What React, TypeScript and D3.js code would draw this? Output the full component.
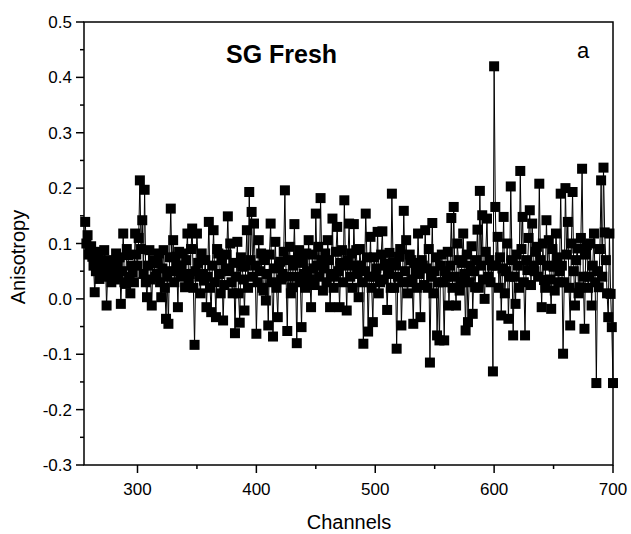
import React from 'react'
import { scaleLinear, line } from 'd3'

// one reading per channel, starting at channel 256
const channelStart = 256

const anisotropy = [
  0.139, 0.1, 0.115, 0.08, 0.088, 0.095, 0.076, 0.06, 0.012, 0.05, 0.07, 0.085, 0.036, 0.07, 0.055, 0.04, 0.088, 0.065, -0.012, 0.05,
  0.07, 0.045, 0.03, 0.065, 0.055, 0.035, 0.082, 0.06, 0.04, 0.075, -0.009, 0.05, 0.118, 0.03, 0.027, 0.09, 0.079, 0.04, 0.01, 0.06,
  0.048, 0.03, 0.118, 0.08, 0.06, 0.11, 0.214, 0.09, 0.142, 0.045, 0.197, 0.03, 0.003, 0.06, 0.088, 0.035, -0.012, 0.07, 0.064, 0.04,
  0.045, 0.065, 0.082, 0.03, 0.003, 0.055, 0.088, 0.02, -0.036, 0.04, -0.045, 0.075, 0.163, 0.05, 0.106, 0.03, 0.076, 0.06, -0.015, 0.085,
  0.045, 0.06, 0.082, 0.04, 0.021, 0.07, 0.118, 0.035, 0.045, 0.09, 0.127, 0.02, -0.083, 0.05, 0.118, 0.065, 0.04, 0.01, 0.082, 0.045,
  0.033, 0.07, -0.015, 0.04, 0.139, 0.02, -0.024, 0.06, 0.124, 0.03, -0.033, 0.09, 0.082, 0.045, 0.01, 0.07, -0.039, 0.025, 0.055, 0.08,
  0.149, 0.05, 0.1, 0.03, 0.01, 0.065, -0.062, 0.04, 0.103, 0.01, -0.043, 0.075, 0.058, 0.035, -0.021, 0.06, 0.124, 0.02, 0.193, 0.07,
  0.157, 0.04, 0.136, 0.06, -0.063, 0.03, 0.106, 0.05, 0.082, 0.02, 0.015, 0.07, -0.003, 0.045, -0.048, 0.08, 0.136, 0.03, -0.068, 0.055,
  0.103, 0.02, -0.033, 0.06, 0.067, 0.035, 0.045, 0.085, 0.196, 0.04, -0.058, 0.07, 0.094, 0.01, 0.021, 0.06, 0.135, 0.04, -0.08, 0.075,
  0.088, 0.03, -0.051, 0.065, 0.045, 0.02, 0.082, 0.05, 0.106, 0.035, -0.015, 0.08, 0.055, 0.025, 0.154, 0.06, 0.094, 0.04, 0.182, 0.07,
  0.015, 0.055, 0.082, 0.03, 0.106, 0.07, -0.015, 0.045, 0.145, 0.02, 0.04, 0.085, 0.13, 0.05, -0.015, 0.065, 0.088, 0.03, 0.178, 0.06,
  -0.021, 0.07, 0.136, 0.04, 0.082, 0.02, 0.135, 0.06, 0.088, 0.045, 0.003, 0.09, 0.06, 0.03, -0.081, 0.05, 0.154, 0.075, -0.059, 0.04,
  0.112, 0.02, -0.042, 0.075, 0.04, 0.055, 0.121, 0.01, 0.03, 0.08, 0.122, 0.035, 0.064, 0.06, -0.02, 0.045, 0.083, 0.02, 0.19, 0.065,
  0.02, 0.06, -0.09, 0.04, 0.076, 0.09, -0.048, 0.03, 0.159, 0.05, 0.106, 0.01, 0.03, 0.08, 0.07, 0.035, -0.045, 0.065, 0.05, 0.02,
  0.118, 0.045, -0.033, 0.07, 0.06, 0.025, 0.124, 0.055, 0.02, 0.09, -0.115, 0.04, 0.137, 0.01, 0.05, 0.075, -0.066, 0.03, -0.075, 0.06,
  0.08, 0.03, -0.075, 0.05, 0.04, 0.085, -0.012, 0.06, 0.146, 0.02, 0.166, 0.04, -0.012, 0.1, 0.07, 0.015, 0.03, 0.065, 0.118, 0.045,
  -0.057, 0.08, -0.042, 0.03, 0.06, 0.095, -0.027, 0.05, 0.021, 0.07, 0.125, 0.02, 0.195, 0.06, 0.151, 0.035, 0.0, 0.085, 0.145, 0.04,
  0.07, 0.03, 0.06, -0.131, 0.42, 0.166, 0.06, 0.112, 0.02, 0.075, -0.03, 0.055, 0.148, 0.01, 0.05, 0.1, -0.036, 0.04, 0.203, 0.07,
  -0.066, 0.04, -0.009, 0.08, 0.06, 0.02, 0.231, 0.09, 0.148, 0.03, -0.066, 0.07, 0.052, 0.11, 0.16, 0.025, 0.136, 0.06, 0.05, 0.085,
  0.094, 0.04, 0.208, 0.07, -0.015, 0.1, 0.034, 0.02, 0.142, 0.06, 0.106, 0.035, -0.018, 0.09, 0.058, 0.015, 0.118, 0.075, 0.03, 0.05,
  0.19, 0.06, -0.099, 0.03, 0.2, 0.08, 0.139, 0.02, -0.048, 0.1, 0.193, 0.05, -0.012, 0.07, 0.091, 0.01, 0.021, 0.11, 0.235, 0.04,
  -0.054, 0.08, 0.097, 0.02, 0.04, 0.1, -0.012, 0.06, 0.118, 0.03, -0.152, 0.05, 0.021, 0.09, 0.214, 0.04, 0.237, 0.12, 0.07, 0.01,
  -0.033, 0.118, 0.009, -0.051, -0.152,
]

const xTicks = [300, 400, 500, 600, 700]
const xMinorTicks = [350, 450, 550, 650]
const yTicks = [-0.3, -0.2, -0.1, 0.0, 0.1, 0.2, 0.3, 0.4, 0.5]
const yMinorTicks = [-0.25, -0.15, -0.05, 0.05, 0.15, 0.25, 0.35, 0.45]

const W = 631
const H = 534
const left = 84
const right = 613
const top = 22
const bottom = 465
const font = '"Liberation Sans", Arial, sans-serif'

export default function App() {
  const x = scaleLinear().domain([255, 700]).range([left, right])
  const y = scaleLinear().domain([-0.3, 0.5]).range([bottom, top])

  const points = anisotropy.map((v, i) => ({ ch: channelStart + i, v }))
  const path = line<{ ch: number; v: number }>()
    .x(d => x(d.ch))
    .y(d => y(d.v))(points)

  const m = 10 // marker size

  return (
    <svg width={W} height={H} style={{ position: 'absolute', left: 0, top: 0, background: '#fff' }}
      fontFamily={font}>
      <rect x={0} y={0} width={W} height={H} fill="#fff" />

      <path d={path || ''} fill="none" stroke="#000" strokeWidth={1} />
      {points.map((d, i) => (
        <rect key={i} x={x(d.ch) - m / 2} y={y(d.v) - m / 2} width={m} height={m} fill="#000" />
      ))}

      {/* frame */}
      <rect x={left} y={top} width={right - left} height={bottom - top}
        fill="none" stroke="#000" strokeWidth={1.5} />

      {/* y axis */}
      {yTicks.map(t => (
        <g key={'y' + t}>
          <line x1={left - 8} x2={left} y1={y(t)} y2={y(t)} stroke="#000" strokeWidth={1.5} />
          <text x={left - 12} y={y(t)} dy="0.36em" textAnchor="end" fontSize={17}>{t.toFixed(1)}</text>
        </g>
      ))}
      {yMinorTicks.map(t => (
        <line key={'ym' + t} x1={left - 4} x2={left} y1={y(t)} y2={y(t)} stroke="#000" strokeWidth={1.5} />
      ))}

      {/* x axis */}
      {xTicks.map(t => (
        <g key={'x' + t}>
          <line x1={x(t)} x2={x(t)} y1={bottom} y2={bottom + 8} stroke="#000" strokeWidth={1.5} />
          <text x={x(t)} y={495} textAnchor="middle" fontSize={17}>{t}</text>
        </g>
      ))}
      {xMinorTicks.map(t => (
        <line key={'xm' + t} x1={x(t)} x2={x(t)} y1={bottom} y2={bottom + 4} stroke="#000" strokeWidth={1.5} />
      ))}

      <text x={349} y={529} textAnchor="middle" fontSize={20}>Channels</text>
      <text transform="translate(25,257) rotate(-90)" textAnchor="middle" fontSize={20}>Anisotropy</text>

      <text x={226} y={63} fontSize={25} fontWeight="bold">SG Fresh</text>
      <text x={577} y={58} fontSize={22}>a</text>
    </svg>
  )
}
